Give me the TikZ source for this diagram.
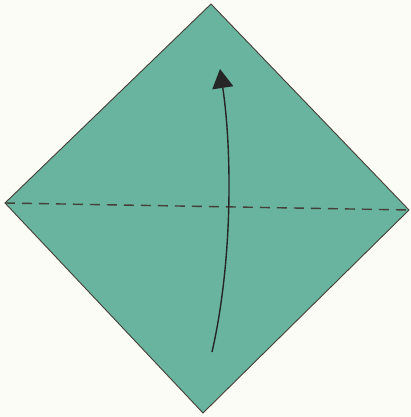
\documentclass[tikz,border=0pt]{standalone}
\usetikzlibrary{arrows.meta}
\definecolor{paper}{RGB}{104,180,158}
\definecolor{edge}{RGB}{70,62,56}
\definecolor{bg}{RGB}{252,252,247}
\tikzset{
  fold/.style={draw=edge, line width=1.4pt, dash pattern=on 10pt off 7pt},
  movearrow/.style={draw=black!85, line width=1.4pt, -{Triangle[width=21pt,length=19pt]}}
}
\begin{document}
\begin{tikzpicture}[x=1pt,y=-1pt]
  \fill[bg] (0,0) rectangle (411,417);
  \useasboundingbox (0,0) rectangle (411,417);
  \coordinate (T) at (211,4);
  \coordinate (R) at (409,210);
  \coordinate (B) at (203,413);
  \coordinate (L) at (5,203);
  \filldraw[fill=paper, draw=edge, line width=0.9pt, line join=miter] (T) -- (R) -- (B) -- (L) -- cycle;
  \draw[fold] (L) -- (R);
  \coordinate (a0) at (212,352);
  \coordinate (a1) at (220,69);
  \draw[movearrow] (a0) .. controls (233,260) and (232,150) .. (a1);
\end{tikzpicture}
\end{document}
